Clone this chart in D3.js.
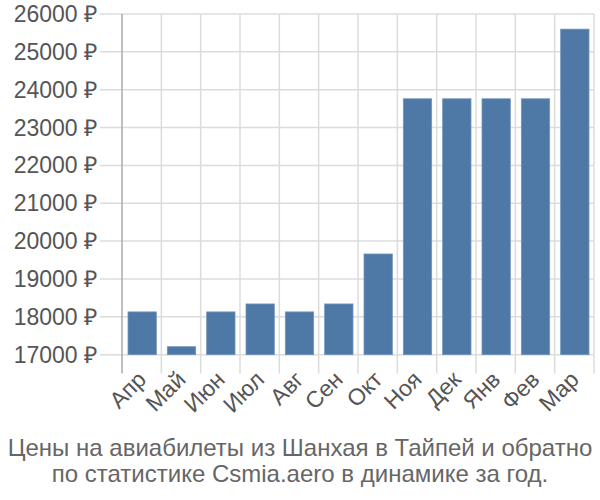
<!DOCTYPE html>
<html><head><meta charset="utf-8">
<script src="https://cdn.jsdelivr.net/npm/d3@7"></script>
<style>body{margin:0;background:#fff}svg{display:block}</style>
</head><body><svg id="c" width="600" height="500"></svg>
<script>
const months = ["Апр","Май","Июн","Июл","Авг","Сен","Окт","Ноя","Дек","Янв","Фев","Мар"];
const prices = [18130,17210,18130,18340,18130,18340,19660,23760,23760,23760,23760,25600];
const yTicks = [17000,18000,19000,20000,21000,22000,23000,24000,25000,26000];
const titleLines = ["Цены на авиабилеты из Шанхая в Тайпей и обратно","по статистике Csmia.aero в динамике за год."];

(function(){
const svg = d3.select("#c");
const font = "'Liberation Sans', Arial, sans-serif";
const pL = 122, pR = 594, pT = 14, pB = 373.6;
const x = d3.scaleBand().domain(months).range([pL, pR]).padding(0);
const y = d3.scaleLinear().domain([16500, 26000]).range([pB, pT]);

svg.append("g").selectAll("line").data(yTicks).join("line")
  .attr("x1", 100).attr("x2", pR).attr("y1", d => y(d)).attr("y2", d => y(d))
  .attr("stroke", "#dcdcdc").attr("stroke-width", 1.5);
svg.append("g").selectAll("line").data(months).join("line")
  .attr("x1", d => x(d) + x.step()).attr("x2", d => x(d) + x.step())
  .attr("y1", pT).attr("y2", pB)
  .attr("stroke", "#dcdcdc").attr("stroke-width", 1.5);
svg.append("line").attr("x1", pL).attr("x2", pL).attr("y1", pT).attr("y2", pB)
  .attr("stroke", "#aaa").attr("stroke-width", 1.5);

const bw = x.step()*0.72;
svg.append("g").selectAll("rect").data(prices).join("rect")
  .attr("x", (d,i) => x(months[i]) + (x.step()-bw)/2 + 0.5)
  .attr("width", bw)
  .attr("y", d => y(d))
  .attr("height", d => y(17000) - y(d))
  .attr("fill", "#4e79a7")
  .attr("stroke", "#6f93bb").attr("stroke-width", 0.8);

svg.append("g").selectAll("text").data(yTicks).join("text")
  .attr("x", 97).attr("y", d => y(d)).attr("dy", "0.35em")
  .attr("text-anchor", "end").attr("font-family", font).attr("font-size", 23)
  .attr("fill", "#555").text(d => d + " ₽");

svg.append("g").selectAll("text").data(months).join("text")
  .attr("transform", d => `translate(${x(d) + x.step()/2 + 6},${381}) rotate(-45)`)
  .attr("text-anchor", "end").attr("font-family", font).attr("font-size", 23)
  .attr("fill", "#555").text(d => d);

svg.append("g").selectAll("text").data(titleLines).join("text")
  .attr("x", 300).attr("y", (d,i) => 455.5 + i*26.5)
  .attr("text-anchor", "middle").attr("font-family", font).attr("font-size", 24)
  .attr("fill", "#666").text(d => d);
})();
</script></body></html>
